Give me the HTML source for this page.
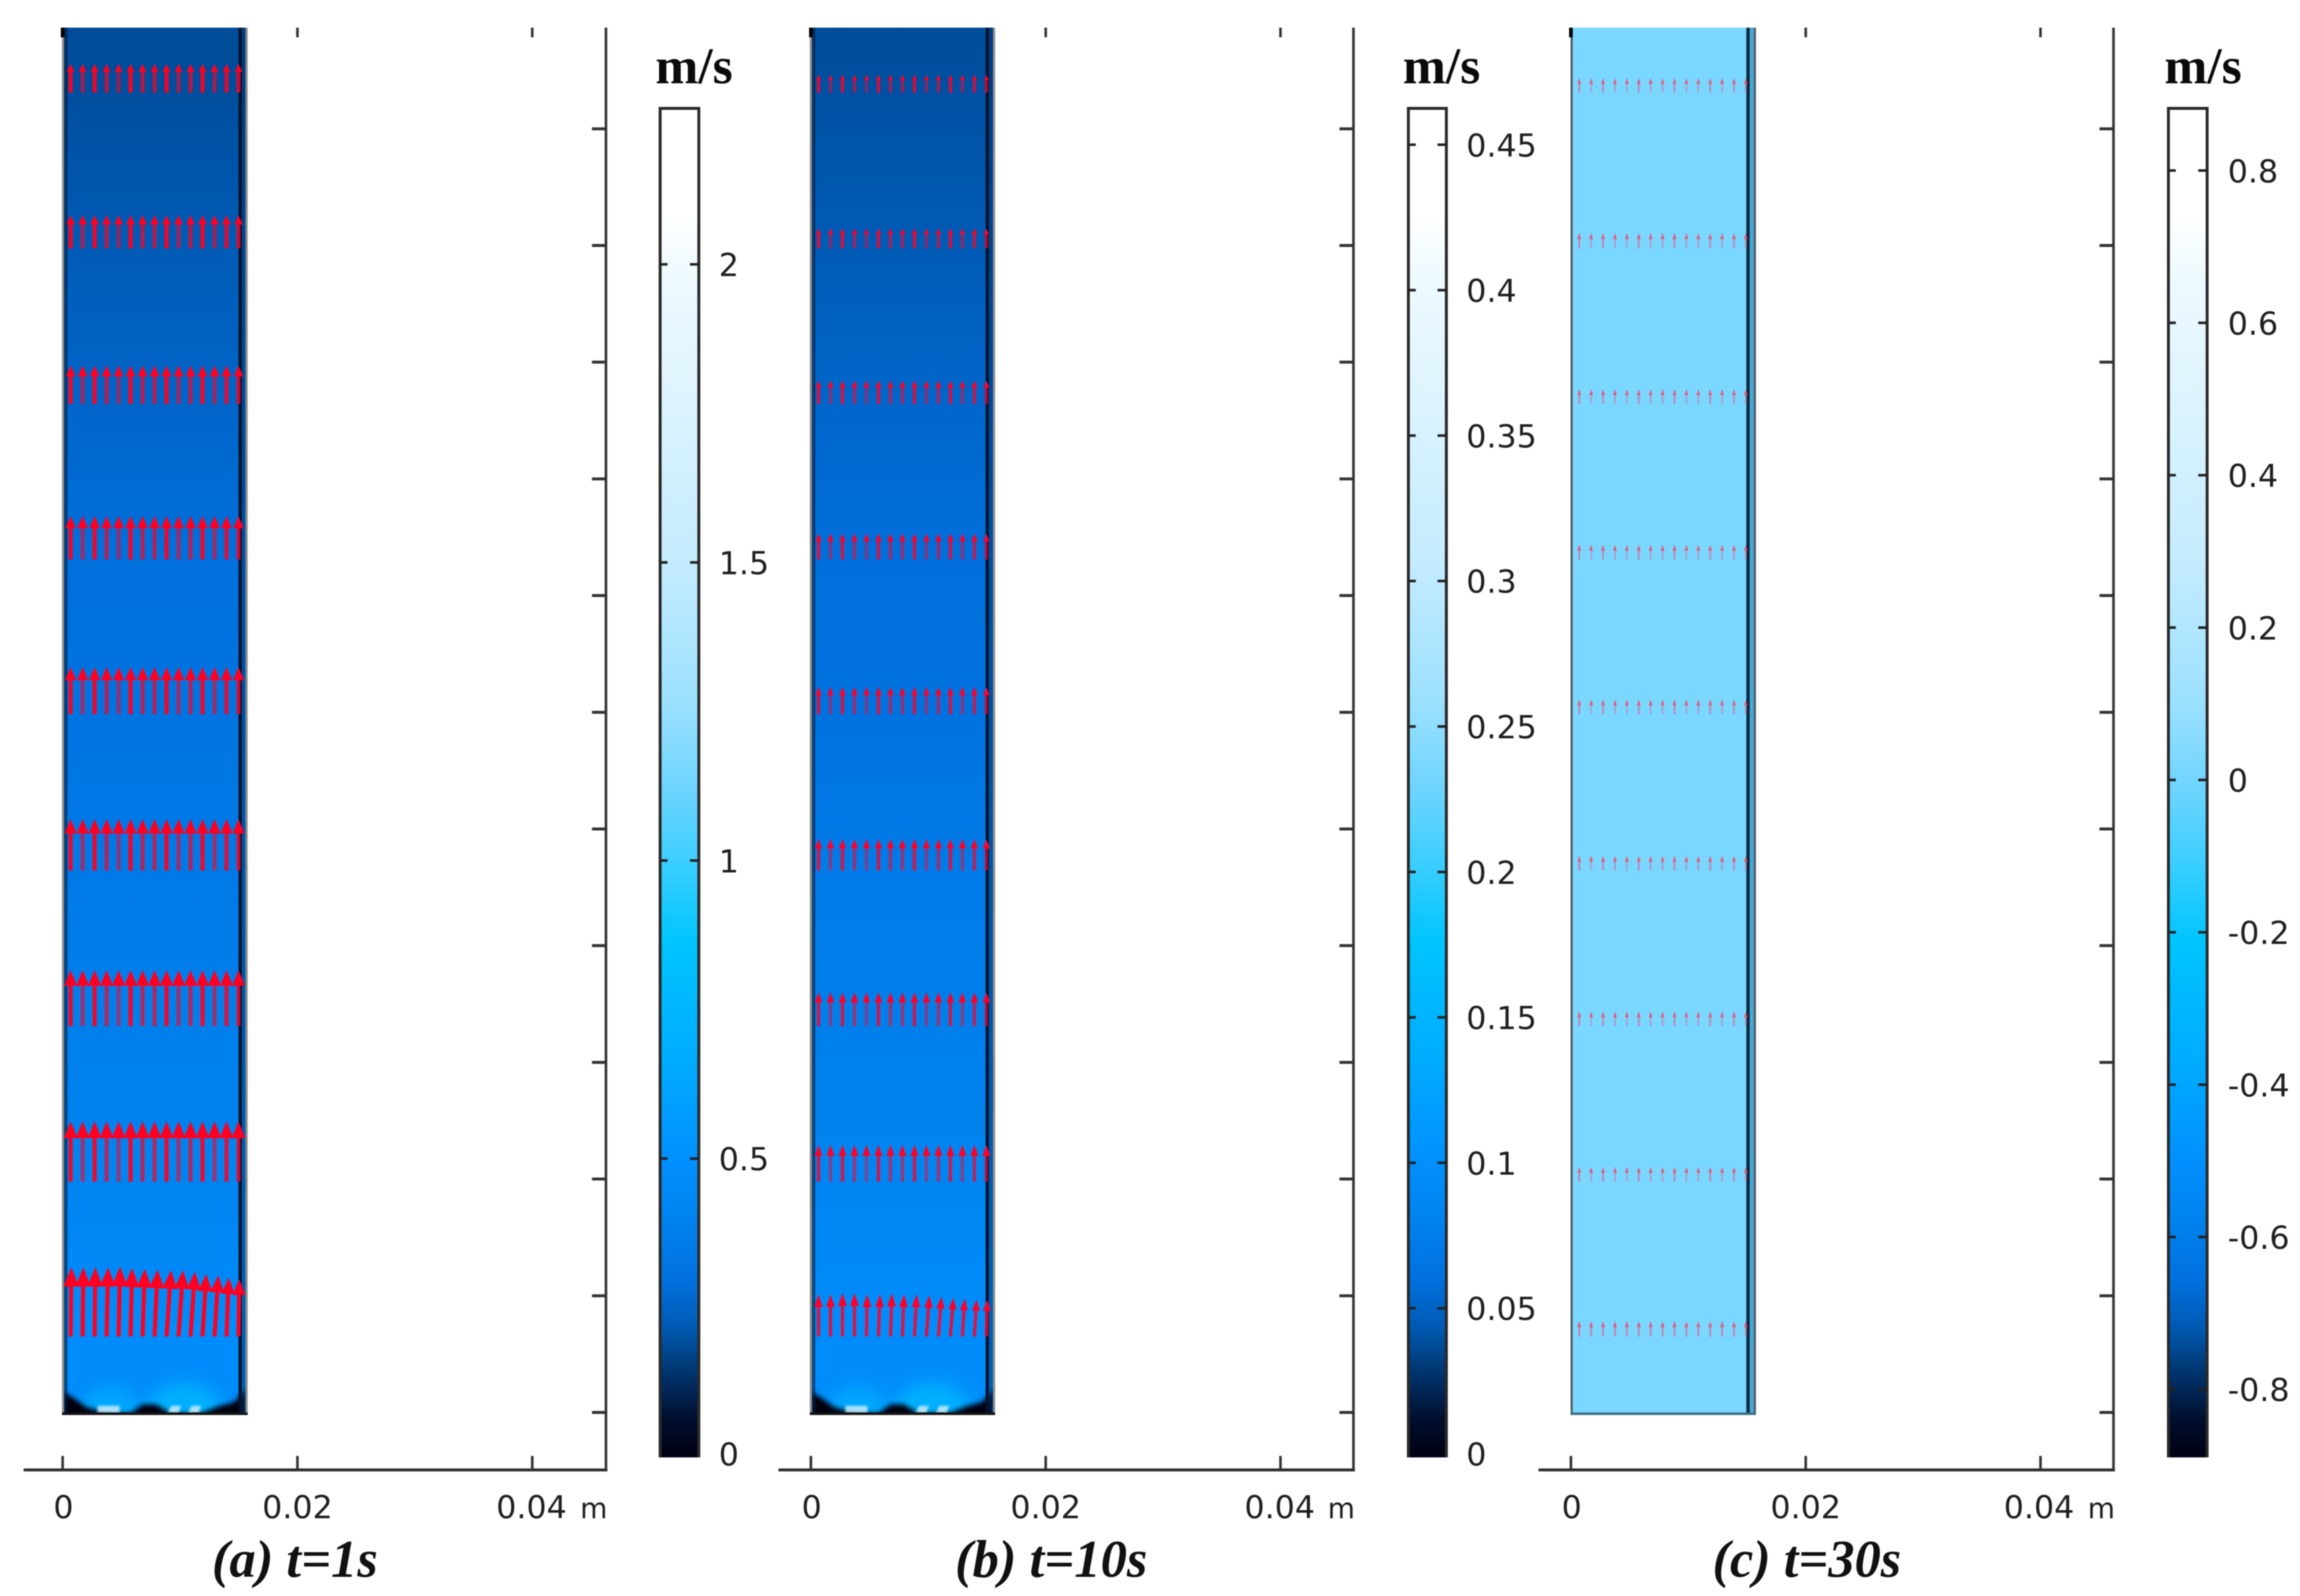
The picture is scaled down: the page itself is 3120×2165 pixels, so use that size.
<!DOCTYPE html>
<html lang="en">
<head>
<meta charset="utf-8">
<title>Velocity field at t=1s, 10s, 30s</title>
<style>
html,body{margin:0;padding:0;background:#fff;width:3120px;height:2165px;overflow:hidden}
svg{display:block;filter:blur(0.7px)}
.tick-text{font-family:"DejaVu Sans","Liberation Sans",sans-serif;font-size:43px;fill:#1f1f1f}
.unit-x{font-family:"DejaVu Sans","Liberation Sans",sans-serif;font-size:38px;fill:#1f1f1f}
.unit{font-family:"Liberation Serif",serif;font-weight:bold;font-size:70px;fill:#0a0a0a}
.caption{font-family:"Liberation Serif",serif;font-weight:bold;font-style:italic;font-size:72px;fill:#111;text-anchor:middle}
</style>
</head>
<body>
<svg id="fig" xmlns="http://www.w3.org/2000/svg" width="3120" height="2165" viewBox="0 0 3120 2165">
  <defs id="defs"></defs>
  <rect x="0" y="0" width="3120" height="2165" fill="#ffffff"/>
  <text class="unit" x="889" y="113">m/s</text>
  <text class="unit" x="1903" y="113">m/s</text>
  <text class="unit" x="2936" y="113">m/s</text>
  <text class="caption" x="400" y="2139" textLength="225" lengthAdjust="spacingAndGlyphs">(a) t=1s</text>
  <text class="caption" x="1426" y="2139" textLength="261" lengthAdjust="spacingAndGlyphs">(b) t=10s</text>
  <text class="caption" x="2451" y="2139" textLength="256" lengthAdjust="spacingAndGlyphs">(c) t=30s</text>
</svg>
<script>
// ---- chart data ----
const xTickValues = [0, 0.02, 0.04];
const xTickLabels = ['0', '0.02', '0.04'];
const yTickHeights = [0, 0.01, 0.02, 0.03, 0.04, 0.05, 0.06, 0.07, 0.08, 0.09, 0.10, 0.11];
const arrowColumns = [0.00066, 0.0017, 0.00274, 0.00378, 0.00482, 0.00586, 0.0069, 0.00794, 0.00898, 0.01002, 0.01106, 0.0121, 0.01314, 0.01418, 0.01522];
const arrowRowHeights = [0.1131, 0.09975, 0.08642, 0.07309, 0.05983, 0.04643, 0.0331, 0.01977, 0.00651];

const rowSpeedA = [0.195, 0.225, 0.26, 0.295, 0.32, 0.35, 0.38, 0.41];
const lastRowSpeedA = [0.47, 0.47, 0.47, 0.47, 0.475, 0.465, 0.46, 0.455, 0.45, 0.45, 0.44, 0.425, 0.415, 0.40, 0.39];
const lastRowSideA = [0.005, 0.005, 0.005, 0.01, 0.01, 0.01, 0.015, 0.02, 0.03, 0.03, 0.03, 0.025, 0.025, 0.015, 0.005];
const plateTopSpeedA = 0.19;

const rowSpeedB = [0.041, 0.046, 0.054, 0.06, 0.063, 0.073, 0.078, 0.085];
const lastRowSpeedB = [0.097, 0.097, 0.1, 0.1, 0.097, 0.097, 0.099, 0.097, 0.097, 0.095, 0.092, 0.089, 0.087, 0.085, 0.085];
const lastRowSideB = [0, 0, 0, 0, 0.0017, 0.0034, 0.0034, 0.0034, 0.0051, 0.0068, 0.0068, 0.0068, 0.0051, 0.0051, 0.0017];
const plateTopSpeedB = 0.039;

const rowSpeedC = [0.0195, 0.021, 0.02, 0.02, 0.02, 0.02, 0.02, 0.02];
const lastRowSpeedC = [0.021, 0.021, 0.021, 0.021, 0.021, 0.021, 0.021, 0.021, 0.021, 0.021, 0.021, 0.021, 0.021, 0.021, 0.021];
const lastRowSideC = [0, 0, 0, 0, 0, 0, 0, 0, 0, 0, 0, 0, 0, 0, 0];
const plateTopSpeedC = 0.02;

const colorbarTicksA = [0, 0.5, 1, 1.5, 2];
const colorbarLabelsA = ['0', '0.5', '1', '1.5', '2'];
const colorbarTicksB = [0, 0.05, 0.1, 0.15, 0.2, 0.25, 0.3, 0.35, 0.4, 0.45];
const colorbarLabelsB = ['0', '0.05', '0.1', '0.15', '0.2', '0.25', '0.3', '0.35', '0.4', '0.45'];
const colorbarTicksC = [-0.8, -0.6, -0.4, -0.2, 0, 0.2, 0.4, 0.6, 0.8];
const colorbarLabelsC = ['-0.8', '-0.6', '-0.4', '-0.2', '0', '0.2', '0.4', '0.6', '0.8'];

const jetCenters = [0.00395, 0.00955, 0.0113];

// ---- colour map ----
const paletteStops = [0, 0.03, 0.068, 0.095, 0.131, 0.181, 0.221, 0.29, 0.383, 0.442, 0.495, 0.56, 0.664, 0.885, 0.92, 1];
const paletteColors = [[0,0,16],[0,16,48],[0,58,120],[0,88,176],[0,112,221],[0,132,240],[0,144,255],[0,170,255],[0,196,255],[60,206,255],[109,212,255],[155,224,255],[196,235,255],[240,250,255],[255,255,255],[255,255,255]];

function colorAt(t) {
  t = Math.max(0, Math.min(1, t));
  for (let i = 1; i < paletteStops.length; i++) {
    if (t <= paletteStops[i]) {
      const f = (t - paletteStops[i - 1]) / (paletteStops[i] - paletteStops[i - 1]);
      const a = paletteColors[i - 1], b = paletteColors[i];
      return 'rgb(' + [0, 1, 2].map(k => Math.round(a[k] + (b[k] - a[k]) * f)).join(',') + ')';
    }
  }
  return 'rgb(255,255,255)';
}

const NS = 'http://www.w3.org/2000/svg';
const svg = document.getElementById('fig');
const defs = document.getElementById('defs');

function mk(parent, tag, attrs, text) {
  const e = document.createElementNS(NS, tag);
  for (const k in attrs) e.setAttribute(k, attrs[k]);
  if (text !== undefined) e.textContent = text;
  parent.appendChild(e);
  return e;
}

const blurWide = mk(defs, 'filter', {id: 'blurWide', x: '-50%', y: '-50%', width: '200%', height: '200%'});
mk(blurWide, 'feGaussianBlur', {stdDeviation: 11});
const blurMid = mk(defs, 'filter', {id: 'blurMid', x: '-30%', y: '-30%', width: '160%', height: '160%'});
mk(blurMid, 'feGaussianBlur', {stdDeviation: 3.5});
const blurFine = mk(defs, 'filter', {id: 'blurFine', x: '-30%', y: '-30%', width: '160%', height: '160%'});
mk(blurFine, 'feGaussianBlur', {stdDeviation: 1.6});

const TOP = 37.5, AXIS_Y = 1994, BASE_Y = 1916, HSCALE = 15830;
const BAR_TOP = 147, BAR_BOTTOM = 1977;
const shaftOpacity = [0.95, 0.6, 0.95, 0.7, 0.55, 0.95, 0.7, 0.7, 0.95, 0.6, 0.7, 0.95, 0.6, 0.85, 0.8];

const yOf = h => BASE_Y - h * HSCALE;

function drawPanel(p) {
  const g = mk(svg, 'g', {});
  
  
  const xOf = v => p.x0 + v * p.xScale;
  const barY = v => p.barZero - v * p.barScale;
  const speedT = v => (v - p.barMin) / (p.barMax - p.barMin);

  // plate gradient driven by the speed rows
  const grad = mk(defs, 'linearGradient', {id: 'plate-' + p.id, gradientUnits: 'userSpaceOnUse', x1: 0, y1: TOP, x2: 0, y2: BASE_Y});
  mk(grad, 'stop', {offset: 0, 'stop-color': colorAt(speedT(p.topSpeed))});
  p.rows.forEach((v, i) => {
    mk(grad, 'stop', {offset: (yOf(arrowRowHeights[i]) - TOP) / (BASE_Y - TOP), 'stop-color': colorAt(speedT(v))});
  });
  const lastMean = p.lastSpeed[0];
  mk(grad, 'stop', {offset: (yOf(arrowRowHeights[8]) - TOP) / (BASE_Y - TOP), 'stop-color': colorAt(speedT(lastMean))});
  mk(grad, 'stop', {offset: 1, 'stop-color': colorAt(speedT(lastMean))});

  const clip = mk(defs, 'clipPath', {id: 'clip-' + p.id});
  mk(clip, 'rect', {x: p.x0 + 1.5, y: TOP, width: p.plateR - p.x0 - 1.5, height: BASE_Y + 1 - TOP});

  const plate = mk(g, 'rect', {x: p.x0 + 1.5, y: TOP, width: p.plateR - p.x0 - 1.5, height: BASE_Y + 1 - TOP, fill: 'url(#plate-' + p.id + ')'});
  
  

  // jets at the inlet
  if (p.jets) {
    const j = mk(g, 'g', {'clip-path': 'url(#clip-' + p.id + ')'});
    
    
    const glowA = mk(j, 'ellipse', {cx: xOf(0.0041), cy: 1916, rx: 40, ry: 34, fill: '#00b4ff', opacity: 0.7, filter: 'url(#blurWide)'});
    
    
    const glowB = mk(j, 'ellipse', {cx: xOf(0.0105), cy: 1914, rx: 52, ry: 38, fill: '#00b8ff', opacity: 0.8, filter: 'url(#blurWide)'});
    
    
    const o = p.x0;
    const band = 'M' + [[o, 1888], [o + 14, 1896], [o + 32, 1909], [o + 62, 1917], [o + 92, 1917], [o + 108, 1905], [o + 126, 1905], [o + 146, 1917], [o + 188, 1917], [o + 210, 1908], [o + 232, 1902], [p.plateR, 1884], [p.plateR, 1922], [o, 1922]].map(q => q.join(',')).join(' L') + 'Z';
    const dark = mk(j, 'path', {d: band, fill: '#00050f', filter: 'url(#blurMid)'});
    
    
    jetCenters.forEach((c, i) => {
      const w = i === 0 ? 30 : 15;
      const cx = xOf(c);
      const pts = [[cx - w / 2, 1917], [cx + w / 2, 1917], [cx + w / 2 + (i ? 3 : 0), 1907], [cx - w / 2 + (i ? 5 : 0), 1907]].map(q => q.join(',')).join(' ');
      const patch = mk(j, 'polygon', {points: pts, fill: '#d8f3ff', opacity: 0.8, filter: 'url(#blurFine)'});
      
      
    });
  }

  // plate frame
  if (p.jets) {
    const strip = mk(g, 'rect', {x: p.x0 + 1.5, y: TOP, width: 4.5, height: BASE_Y - TOP, fill: '#001a38', opacity: 0.6});
    
    
  }
  const rightWall = mk(g, 'rect', {x: p.inner + 2, y: TOP, width: p.plateR - p.inner - 2, height: BASE_Y + 1 - TOP, fill: p.wallFill, opacity: p.wallOpacity});
  
  
  const innerLine = mk(g, 'rect', {x: p.inner - 2, y: TOP, width: 4.5, height: BASE_Y + 1 - TOP, fill: p.innerFill});
  
  
  const leftEdge = mk(g, 'rect', {x: p.x0 - 1.5, y: TOP, width: 3, height: BASE_Y + 3 - TOP, fill: p.edgeFill});
  
  
  const rightEdge = mk(g, 'rect', {x: p.plateR - 1, y: TOP, width: 3, height: BASE_Y + 3 - TOP, fill: p.edgeFill});
  
  
  const bottomEdge = mk(g, 'rect', {x: p.x0 - 1.5, y: BASE_Y, width: p.plateR - p.x0 + 3.5, height: 3.5, fill: p.bottomFill});
  
  

  // arrows
  const arrows = mk(g, 'g', {});
  
  
  arrowRowHeights.forEach((h, r) => {
    arrowColumns.forEach((cx, c) => {
      const last = r === arrowRowHeights.length - 1;
      const speed = last ? p.lastSpeed[c] : p.rows[r];
      const side = last ? p.lastSide[c] : 0;
      const tx = xOf(cx), ty = yOf(h);
      const dx = side * p.arrowK, dy = -speed * p.arrowK;
      const L = Math.hypot(dx, dy);
      const ux = dx / L, uy = dy / L;
      const hl = p.headLen * L, hw = p.headBase + p.headGrow * L;
      const nx = tx + dx - ux * hl, ny = ty + dy - uy * hl;
      const a = mk(arrows, 'g', {});
      
      
      const shaft = mk(a, 'line', {x1: tx, y1: ty, x2: nx, y2: ny, stroke: p.shaftColor, 'stroke-width': p.shaftW, 'stroke-opacity': last ? p.shaftMax : shaftOpacity[c] * p.shaftMax});
      
      
      const head = mk(a, 'polygon', {points: [[tx + dx, ty + dy], [nx - uy * hw / 2, ny + ux * hw / 2], [nx + uy * hw / 2, ny - ux * hw / 2]].map(q => q.join(',')).join(' '), fill: p.headColor, 'fill-opacity': p.headOpacity});
      
      
    });
  });

  // axes
  const xAxis = mk(g, 'line', {x1: p.axisL, y1: AXIS_Y, x2: p.axisR + 2, y2: AXIS_Y, stroke: '#2e2e2e', 'stroke-width': 4});
  
  
  const yAxis = mk(g, 'line', {x1: p.axisR, y1: TOP, x2: p.axisR, y2: AXIS_Y, stroke: '#333', 'stroke-width': 3.5});
  
  

  xTickValues.forEach((v, i) => {
    const x = p.tickX(v);
    const t1 = mk(g, 'line', {x1: x, y1: AXIS_Y - 19, x2: x, y2: AXIS_Y, stroke: '#333', 'stroke-width': 3.5});
    
    
    const t2 = mk(g, 'line', {x1: x, y1: TOP, x2: x, y2: TOP + 13, stroke: i === 0 ? '#000' : '#333', 'stroke-width': i === 0 ? 5 : 3.5});
    
    
    const lab = mk(g, 'text', {x: x + p.xLabelShift[i], y: 2059.5, 'text-anchor': 'middle', class: 'tick-text'}, xTickLabels[i]);
    
    
  });
  const unit = mk(g, 'text', {x: p.axisR + 2, y: 2059.5, 'text-anchor': 'end', class: 'unit-x'}, 'm');
  
  

  yTickHeights.forEach(h => {
    const t = mk(g, 'line', {x1: p.axisR - 19, y1: yOf(h), x2: p.axisR, y2: yOf(h), stroke: '#333', 'stroke-width': 4});
    
    
  });

  // colour bar
  const cg = mk(defs, 'linearGradient', {id: 'bar-' + p.id, x1: 0, y1: 1, x2: 0, y2: 0});
  paletteStops.forEach((s, i) => {
    mk(cg, 'stop', {offset: s, 'stop-color': 'rgb(' + paletteColors[i].join(',') + ')'});
  });
  const bar = mk(g, 'rect', {x: p.barL, y: BAR_TOP, width: p.barR - p.barL, height: BAR_BOTTOM - BAR_TOP, fill: 'url(#bar-' + p.id + ')'});
  
  
  const frame = mk(g, 'path', {d: 'M' + p.barL + ',' + BAR_BOTTOM + ' V' + BAR_TOP + ' H' + p.barR + ' V' + BAR_BOTTOM, fill: 'none', stroke: '#2a2a2a', 'stroke-width': 4});
  
  
  p.barTicks.forEach((v, i) => {
    const y = barY(v);
    if (y < BAR_BOTTOM - 10) {
      const tl = mk(g, 'line', {x1: p.barL, y1: y, x2: p.barL + 10, y2: y, stroke: '#222', 'stroke-width': 3.5});
      
      
      const tr = mk(g, 'line', {x1: p.barR - 12, y1: y, x2: p.barR, y2: y, stroke: '#222', 'stroke-width': 3.5});
      
      
    }
    const lab = mk(g, 'text', {x: p.labelX, y: Math.min(y, 1972) + 16, class: 'tick-text'}, p.barLabels[i]);
    
    
  });
}

drawPanel({id: 'a', x0: 85.5, xScale: 15640, tickX: v => 85 + v * 15925, xLabelShift: [1, 0, -1],
  plateR: 334, inner: 325.5, axisL: 32, axisR: 822, barL: 895.5, barR: 948, labelX: 975,
  barZero: 1976, barScale: 808.7, barMin: 0, barMax: 2.263, barTicks: colorbarTicksA, barLabels: colorbarLabelsA,
  rows: rowSpeedA, lastSpeed: lastRowSpeedA, lastSide: lastRowSideA, topSpeed: plateTopSpeedA,
  arrowK: 200, headLen: 0.28, headBase: 3, headGrow: 0.19, shaftW: 5.5, shaftColor: '#ff0020', shaftMax: 1, headColor: '#ff0020', headOpacity: 1,
  jets: true, wallFill: '#002a60', wallOpacity: 0.45, innerFill: '#00142c', edgeFill: '#8f8f8d', bottomFill: '#151515'});

drawPanel({id: 'b', x0: 1100, xScale: 15640, tickX: v => 1100 + v * 15925, xLabelShift: [1, 0, -1],
  plateR: 1348, inner: 1339, axisL: 1056, axisR: 1836, barL: 1910.5, barR: 1962, labelX: 1989,
  barZero: 1972, barScale: 3946, barMin: 0, barMax: 0.4627, barTicks: colorbarTicksB, barLabels: colorbarLabelsB,
  rows: rowSpeedB, lastSpeed: lastRowSpeedB, lastSide: lastRowSideB, topSpeed: plateTopSpeedB,
  arrowK: 588, headLen: 0.3, headBase: 3, headGrow: 0.15, shaftW: 4.5, shaftColor: '#ff0028', shaftMax: 0.85, headColor: '#ff0028', headOpacity: 1,
  jets: true, wallFill: '#002a60', wallOpacity: 0.45, innerFill: '#00142c', edgeFill: '#8f8f8d', bottomFill: '#151515'});

drawPanel({id: 'c', x0: 2132, xScale: 15530, tickX: v => 2131 + v * 15925, xLabelShift: [1, 0, -2],
  plateR: 2380, inner: 2371, axisL: 2087, axisR: 2867, barL: 2941.5, barR: 2994, labelX: 3022,
  barZero: 1058, barScale: 1033.4, barMin: -0.889, barMax: 0.882, barTicks: colorbarTicksC, barLabels: colorbarLabelsC,
  rows: rowSpeedC, lastSpeed: lastRowSpeedC, lastSide: lastRowSideC, topSpeed: plateTopSpeedC,
  arrowK: 1000, headLen: 0.4, headBase: 5, headGrow: 0, shaftW: 2.5, shaftColor: '#f0507a', shaftMax: 0.6, headColor: '#ff3a5a', headOpacity: 0.8,
  jets: false, wallFill: '#4ba6d6', wallOpacity: 1, innerFill: '#062a3a', edgeFill: '#4e5e66', bottomFill: '#3d6f88'});
</script>
</body>
</html>
